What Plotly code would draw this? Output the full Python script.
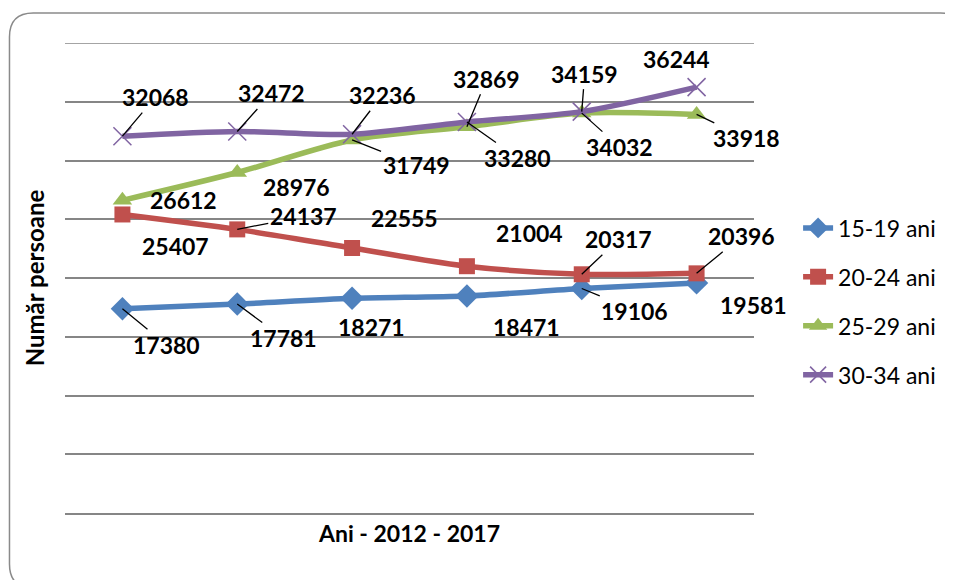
import plotly.graph_objects as go

# data
years = ["2012", "2013", "2014", "2015", "2016", "2017"]
ani_15_19 = [17380, 17781, 18271, 18471, 19106, 19581]
ani_20_24 = [25407, 24137, 22555, 21004, 20317, 20396]
ani_25_29 = [26612, 28976, 31749, 32869, 34032, 33918]
ani_30_34 = [32068, 32472, 32236, 33280, 34159, 36244]
names = ["15-19 ani", "20-24 ani", "25-29 ani", "30-34 ani"]

colors = ["#4F81BD", "#C0504D", "#9BBB59", "#8064A2"]
symbols = ["diamond", "square", "triangle-up", "x-thin-open"]
sizes = [18, 16, 17, 18]

# label offsets in px (dx, dy), and whether Excel drew a leader line
label_off = [
    [(44, 36), (46, 34), (19, 29), (60, 31), (53, 22), (57, 22)],
    [(53, 32), (66, -13), (52, -30), (63, -33), (37, -35), (45, -37)],
    [(61, 0), (59, 14), (64, 25), (20, -48), (38, 34), (50, 24)],
    [(33, -39), (34, -38), (30, -39), (51, 36), (3, -38), (-20, -28)],
]
leader = [
    [1, 1, 0, 0, 1, 0],
    [0, 1, 0, 0, 1, 1],
    [0, 0, 1, 1, 1, 1],
    [1, 1, 1, 1, 1, 0],
]

FONT = "Lato"
# page has an 8px body margin, so the figure is shifted by 8px
OFF = 8
W, H = 953 - OFF, 580 - OFF
L, T = 65 - OFF, 43 - OFF
pw, ph = 695, 470
R, B = W - L - pw, H - T - ph

fig = go.Figure()
series = [ani_15_19, ani_20_24, ani_25_29, ani_30_34]
for k, vals in enumerate(series):
    mk = dict(symbol=symbols[k], size=sizes[k], color=colors[k])
    if symbols[k] == "x-thin-open":
        mk["line"] = dict(color=colors[k], width=1.5)
    fig.add_trace(go.Scatter(
        x=years, y=vals, name=names[k], mode="lines+markers",
        line=dict(color=colors[k], width=5.5, shape="spline", smoothing=0.8),
        marker=mk, legendgroup=names[k],
    ))

annotations = []
for k, vals in enumerate(series):
    for i, v in enumerate(vals):
        dx, dy = label_off[k][i]
        annotations.append(dict(
            x=i, y=v, xref="x", yref="y", text=str(v), showarrow=True,
            ax=dx, ay=dy, arrowhead=0, arrowwidth=1.3, standoff=0,
            arrowcolor="black" if leader[k][i] else "rgba(0,0,0,0)",
            font=dict(family=FONT, size=23, color="black", weight="bold"),
        ))


def px_x(p):
    return (p - OFF - L) / pw


def px_y(p):
    return (T + ph - (p - OFF)) / ph


# rounded chart border (Excel chart area), page pixel coords
x0, y0, x1, y1, r = 9, 13, 972, 588, 24
path = (f"M {px_x(x0 + r)} {px_y(y0)} L {px_x(x1 - r)} {px_y(y0)} "
        f"Q {px_x(x1)} {px_y(y0)} {px_x(x1)} {px_y(y0 + r)} "
        f"L {px_x(x1)} {px_y(y1 - r)} Q {px_x(x1)} {px_y(y1)} {px_x(x1 - r)} {px_y(y1)} "
        f"L {px_x(x0 + r)} {px_y(y1)} Q {px_x(x0)} {px_y(y1)} {px_x(x0)} {px_y(y1 - r)} "
        f"L {px_x(x0)} {px_y(y0 + r)} Q {px_x(x0)} {px_y(y0)} {px_x(x0 + r)} {px_y(y0)} Z")

y_max = 40000
shapes = [
    dict(type="path", path=path, xref="paper", yref="paper",
         line=dict(color="#8a8a8a", width=1.5), layer="below"),
    # top gridline, plotly skips the one sitting on the plot edge
    dict(type="line", xref="paper", yref="y", x0=0, x1=1, y0=y_max, y1=y_max,
         line=dict(color="#868686", width=1.5), layer="below"),
]

fig.update_layout(
    width=W, height=H,
    margin=dict(l=L, r=R, t=T, b=B),
    paper_bgcolor="white", plot_bgcolor="white",
    font=dict(family=FONT, color="black"),
    annotations=annotations,
    shapes=shapes,
    legend=dict(x=1.064, y=0.45, xanchor="left", yanchor="middle",
                font=dict(family=FONT, size=23), traceorder="grouped",
                tracegroupgap=16, bgcolor="rgba(0,0,0,0)"),
    xaxis=dict(type="category", range=[-0.5, 5.5], showticklabels=False,
               ticks="", showgrid=False, showline=True, linecolor="#868686",
               linewidth=2,
               title=dict(text="Ani - 2012 - 2017", standoff=12,
                          font=dict(family=FONT, size=23, weight="bold"))),
    yaxis=dict(range=[0, y_max], dtick=5000, showticklabels=False, ticks="",
               showgrid=True, gridcolor="#868686", gridwidth=1.5,
               zeroline=False, showline=False,
               title=dict(text="Număr persoane", standoff=12,
                          font=dict(family=FONT, size=24, weight="bold"))),
)

fig.write_html("out.html")
